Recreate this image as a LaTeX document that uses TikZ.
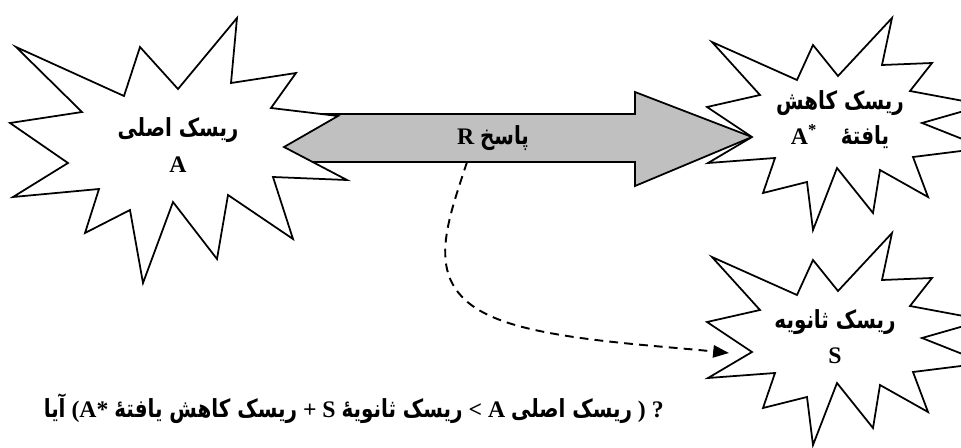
\documentclass[tikz,border=0pt]{standalone}
\usepackage{fontspec}
\setmainfont{Liberation Serif}
\newfontfamily\fafont[Script=Arabic, Scale=1.05, FakeStretch=0.8]{DejaVu Sans}
\usetikzlibrary{arrows.meta,calc}
\TeXXeTstate=1
\definecolor{respgray}{RGB}{192,192,192}
\newcommand\fa[1]{{\fafont\beginR #1\endR}}

\begin{document}
\begin{tikzpicture}[
        x=0.02cm, y=-0.02cm,
        burst/.style={draw=black, fill=white, line width=1pt, line join=miter},
        burstlabel/.style={align=center, inner sep=0pt, font=\bfseries\fontsize{13.5}{20}\selectfont},
        resparrow/.style={draw=black, fill=respgray, line width=1pt, line join=miter},
        dashlink/.style={-{Triangle[length=9pt,width=7pt]}, line width=1.1pt, dash pattern=on 5pt off 3.5pt}
    ]
    \useasboundingbox (0,0) rectangle (961,447);

    % Response arrow (tail hidden under the first burst)
    \coordinate (respTip) at (752,137);
    \draw[resparrow] (250,114) -- (635,114) -- (635,92) -- (respTip) -- (635,186) -- (635,162) -- (250,162) -- cycle;
    \node[burstlabel] (resp) at (493,138) {R \fa{پاسخ}};

    % Bursts
    \draw[burst] (16,47) -- (124,96) -- (140,47) -- (178,89) -- (237,18) -- (231,83) -- (296,73) -- (271,108)
        -- (338,116) -- (284,147) -- (347,180) -- (273,177) -- (293,239) -- (228,195) -- (217,259) -- (173,202)
        -- (143,283) -- (130,210) -- (85,233) -- (99,189) -- (13,197) -- (68,163) -- (10,123) -- (82,112) -- cycle;
    \foreach \dy in {0,215}
        \draw[burst, shift={(0,\dy)}] (712,42) -- (797,80) -- (813,45) -- (838,76) -- (892,18) -- (882,65) -- (932,63)
            -- (910,91) -- (985,105) -- (922,123) -- (985,148) -- (913,157) -- (928,197) -- (880,170) -- (873,213)
            -- (837,168) -- (813,230) -- (807,182) -- (763,193) -- (775,158) -- (708,163) -- (752,137) -- (707,107)
            -- (760,95) -- cycle;

    % Burst labels
    \node[burstlabel] (riskA) at (178,145) {\fa{ریسک اصلی}\\A};
    \node[burstlabel] (riskAs) at (840,120) {\fa{ریسک کاهش}\\A\textsuperscript{*}\quad\fa{یافتهٔ}};
    \node[burstlabel] (riskS) at (835,337) {\fa{ریسک ثانویه}\\S};

    % Secondary risk link
    \coordinate (branch) at (467,162);
    \coordinate (sEntry) at (729,353);
    \draw[dashlink] (branch) .. controls (445,230) and (420,290) .. (500,320) .. controls (553,340) and (650,345) .. (sEntry);

    % Question
    \node[burstlabel, anchor=east] (quest) at (664,409) {\fa{آیا} (A* \fa{ریسک کاهش یافتهٔ} + S \fa{ریسک ثانویهٔ} <~A \fa{ریسک اصلی} ) ?};
\end{tikzpicture}
\end{document}
